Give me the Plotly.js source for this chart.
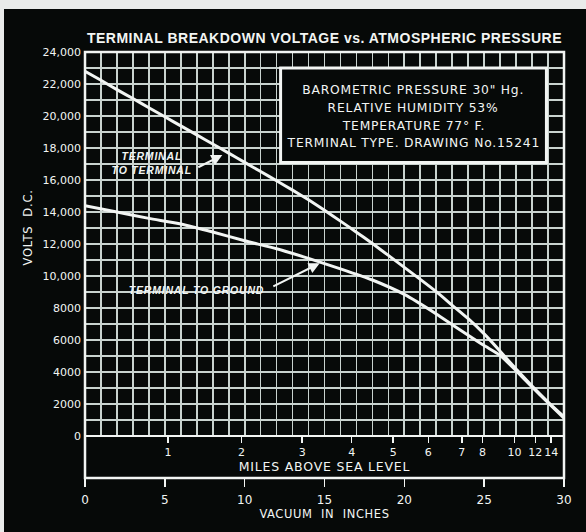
<!DOCTYPE html>
<html>
<head>
<meta charset="utf-8">
<script src="https://cdn.plot.ly/plotly-3.0.1.min.js"></script>
<style>
  html, body { margin: 0; padding: 0; background: #e9ebea; width: 586px; height: 532px; overflow: hidden; }
  #chart { position: absolute; left: 4px; top: 9px; width: 582px; height: 523px; }
  #chart .gtitle { letter-spacing: 0.5px; }
  #chart .x2title { letter-spacing: 0.8px; }
  #chart .x3title { letter-spacing: 0.6px; }
  #chart .annotation-text { letter-spacing: 0.8px; }
</style>
</head>
<body>
<div id="chart"></div>
<script>
// ---- data ----
const ttVacuum = [0, 1, 2, 3, 4, 5, 6, 7, 8, 9, 10, 11, 12, 13, 14, 15, 16, 17, 18, 19, 20, 21, 22, 23, 24, 25, 26, 27, 28, 29, 30];
const ttVolts  = [22800, 22230, 21650, 21090, 20520, 19950, 19380, 18820, 18250, 17680, 17100, 16530, 15950, 15370, 14760, 14110, 13430, 12740, 12030, 11290, 10540, 9790, 9020, 8170, 7330, 6380, 5300, 4180, 3120, 2120, 1200];

const tgVacuum = [0, 2, 4, 6, 8, 10, 12, 14, 16, 18, 20, 22, 23, 24, 25, 26, 27, 28, 29, 30];
const tgVolts  = [14400, 14000, 13600, 13250, 12750, 12200, 11700, 11100, 10450, 9750, 8850, 7630, 6960, 6300, 5650, 5050, 4080, 3060, 2080, 1120];

const yTickValues = [0, 2000, 4000, 6000, 8000, 10000, 12000, 14000, 16000, 18000, 20000, 22000, 24000];
const yTickLabels = ["0", "2000", "4000", "6000", "8000", "10,000", "12,000", "14,000", "16,000", "18,000", "20,000", "22,000", "24,000"];

const milesTickVacuum = [5.2, 9.8, 13.6, 16.7, 19.3, 21.5, 23.6, 24.9, 26.9, 28.2, 29.2];
const milesTickLabels = ["1", "2", "3", "4", "5", "6", "7", "8", "10", "12", "14"];

const vacuumTickValues = [0, 5, 10, 15, 20, 25, 30];
const vacuumTickLabels = ["0", "5", "10", "15", "20", "25", "30"];

const infoLines = [
  'BAROMETRIC PRESSURE 30" Hg.',
  'RELATIVE HUMIDITY 53%',
  'TEMPERATURE 77° F.',
  'TERMINAL TYPE. DRAWING No.15241'
];

// ---- build ----
const FONT = 'Liberation Sans, Arial, sans-serif';
const WIDE = 'DejaVu Sans, Verdana, sans-serif';
const WHITE = '#f2f5f3';
const GRID = '#c9d3cf';

const yGridVals = [];
const yGridText = [];
for (let v = 0; v <= 24000; v += 1000) {
  yGridVals.push(v);
  const i = yTickValues.indexOf(v);
  yGridText.push(i >= 0 ? yTickLabels[i] : '');
}
const xGridVals = [];
for (let v = 0; v <= 30; v += 1) xGridVals.push(v);

const lineStyle = { color: WHITE, width: 3, shape: 'spline', smoothing: 0.5 };

const traces = [
  { x: ttVacuum, y: ttVolts, mode: 'lines', line: lineStyle, name: 'Terminal to terminal',
    xaxis: 'x', yaxis: 'y', showlegend: false },
  { x: tgVacuum, y: tgVolts, mode: 'lines', line: lineStyle, name: 'Terminal to ground',
    xaxis: 'x', yaxis: 'y', showlegend: false },
  { x: [], y: [], mode: 'lines', xaxis: 'x2', yaxis: 'y', showlegend: false, hoverinfo: 'skip' },
  { x: [], y: [], mode: 'lines', xaxis: 'x3', yaxis: 'y', showlegend: false, hoverinfo: 'skip' }
];

const infoY = [21630, 20500, 19375, 18310];
const annotations = infoLines.map((t, i) => ({
  text: t, xref: 'x', yref: 'y', x: 20.55, y: infoY[i], showarrow: false,
  xanchor: 'center', yanchor: 'middle',
  font: { family: WIDE, size: 12.3, color: WHITE }
}));

// curve labels
annotations.push({
  text: '<b><i>TERMINAL<br>TO TERMINAL</i></b>',
  xref: 'x', yref: 'y', x: 4.2, y: 17060, showarrow: false,
  xanchor: 'center', yanchor: 'middle', align: 'center',
  font: { family: FONT, size: 10.5, color: WHITE }
});
annotations.push({
  text: '<b><i>TERMINAL TO GROUND</i></b>',
  xref: 'x', yref: 'y', x: 7.0, y: 9100, showarrow: false,
  xanchor: 'center', yanchor: 'middle',
  font: { family: FONT, size: 10.5, color: WHITE }
});
// arrows
annotations.push({
  text: '', xref: 'x', yref: 'y', x: 8.6, y: 17560,
  axref: 'x', ayref: 'y', ax: 7.0, ay: 16750,
  showarrow: true, arrowhead: 2, arrowsize: 1.1, arrowwidth: 2, arrowcolor: WHITE
});
annotations.push({
  text: '', xref: 'x', yref: 'y', x: 14.7, y: 10800,
  axref: 'x', ayref: 'y', ax: 11.7, ay: 9300,
  showarrow: true, arrowhead: 2, arrowsize: 1.1, arrowwidth: 2, arrowcolor: WHITE
});
annotations.push({
  text: 'VOLTS  D.C.', xref: 'paper', yref: 'paper', x: -0.119, y: 0.589,
  textangle: -90, showarrow: false, xanchor: 'center', yanchor: 'middle',
  font: { family: WIDE, size: 11.5, color: WHITE }
});

const layout = {
  width: 582, height: 523,
  margin: { l: 81, r: 22, t: 43, b: 54 },
  paper_bgcolor: '#060908',
  plot_bgcolor: '#070a09',
  title: {
    text: 'TERMINAL BREAKDOWN VOLTAGE vs. ATMOSPHERIC PRESSURE',
    xref: 'paper', x: 0.5, xanchor: 'center',
    yref: 'container', y: 1 - 29 / 523, yanchor: 'middle',
    font: { family: FONT, size: 14, weight: 'bold', color: WHITE }
  },
  xaxis: {
    range: [0, 30], domain: [0, 1], anchor: 'y',
    tickmode: 'array', tickvals: xGridVals, showticklabels: false, ticks: '',
    showgrid: true, gridcolor: GRID, gridwidth: 1.7,
    zeroline: false, showline: false, fixedrange: true
  },
  xaxis2: {
    range: [0, 30], overlaying: 'x', anchor: 'y', side: 'bottom',
    tickmode: 'array', tickvals: milesTickVacuum, ticktext: milesTickLabels,
    tickangle: 0,
    ticks: 'outside', ticklen: 6, tickwidth: 1.5, tickcolor: WHITE,
    tickfont: { family: WIDE, size: 11, color: WHITE },
    showgrid: false, zeroline: false, showline: false,
    title: { text: 'MILES ABOVE SEA LEVEL', standoff: 2, font: { family: WIDE, size: 12.5, color: WHITE } }
  },
  xaxis3: {
    range: [0, 30], overlaying: 'x', anchor: 'free', position: 0, side: 'bottom',
    tickmode: 'array', tickvals: vacuumTickValues, ticktext: vacuumTickLabels,
    tickangle: 0,
    ticks: 'outside', ticklen: 8, tickwidth: 1.5, tickcolor: WHITE,
    ticklabelstandoff: 3,
    tickfont: { family: WIDE, size: 12, color: WHITE },
    showgrid: false, zeroline: false, showline: false,
    title: { text: 'VACUUM  IN  INCHES', standoff: 3, font: { family: WIDE, size: 11.5, color: WHITE } }
  },
  yaxis: {
    range: [0, 24000], domain: [42 / 426, 1], anchor: 'x',
    tickmode: 'array', tickvals: yGridVals, ticktext: yGridText,
    ticks: '', ticklabelstandoff: 3, tickfont: { family: WIDE, size: 11, color: WHITE },
    showgrid: true, gridcolor: GRID, gridwidth: 1.7,
    zeroline: true, zerolinecolor: WHITE, zerolinewidth: 2.5,
    showline: false, fixedrange: true
  },
  shapes: [
    { type: 'rect', xref: 'paper', yref: 'paper', x0: 0, x1: 1, y0: 0, y1: 1,
      line: { color: WHITE, width: 2.5 }, fillcolor: 'rgba(0,0,0,0)', layer: 'above' },
    { type: 'rect', xref: 'x', yref: 'y', x0: 12.25, x1: 28.9, y0: 17100, y1: 23000,
      line: { color: WHITE, width: 3 }, fillcolor: '#060908', layer: 'above' }
  ],
  annotations: annotations,
  showlegend: false
};

Plotly.newPlot('chart', traces, layout, { displayModeBar: false, staticPlot: true });
</script>
</body>
</html>
